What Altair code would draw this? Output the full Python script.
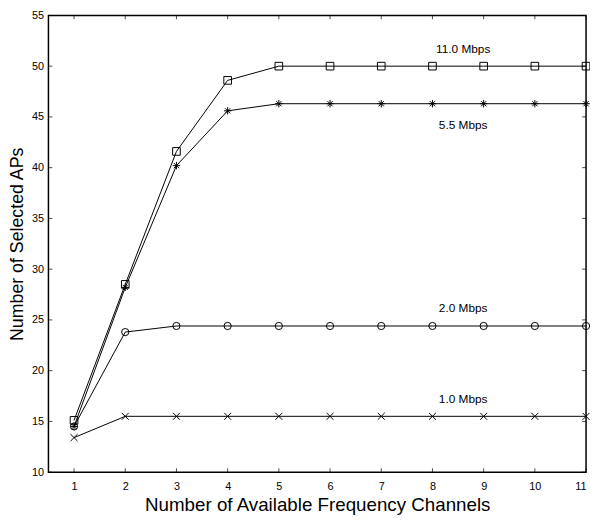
import altair as alt
import pandas as pd

channels = [1, 2, 3, 4, 5, 6, 7, 8, 9, 10, 11]
rate_11 = [15.1, 28.5, 41.6, 48.6, 50.0, 50.0, 50.0, 50.0, 50.0, 50.0, 50.0]
rate_55 = [14.5, 28.2, 40.2, 45.6, 46.3, 46.3, 46.3, 46.3, 46.3, 46.3, 46.3]
rate_20 = [14.5, 23.8, 24.4, 24.4, 24.4, 24.4, 24.4, 24.4, 24.4, 24.4, 24.4]
rate_10 = [13.4, 15.5, 15.5, 15.5, 15.5, 15.5, 15.5, 15.5, 15.5, 15.5, 15.5]
series_names = ["11.0 Mbps", "5.5 Mbps", "2.0 Mbps", "1.0 Mbps"]

label_text = ["11.0 Mbps", "5.5 Mbps", "2.0 Mbps", "1.0 Mbps"]
label_x = [8.6, 8.6, 8.6, 8.6]
label_y = [51.7, 44.2, 26.2, 17.2]

x_ticks = [1, 2, 3, 4, 5, 6, 7, 8, 9, 10, 11]
y_ticks = [10, 15, 20, 25, 30, 35, 40, 45, 50, 55]

rows = []
for name, vals in zip(series_names, [rate_11, rate_55, rate_20, rate_10]):
    for c, v in zip(channels, vals):
        rows.append({"channels": c, "aps": v, "series": name})
df = pd.DataFrame(rows)
labels_df = pd.DataFrame({"text": label_text, "x": label_x, "y": label_y})
xt = pd.DataFrame({"t": x_ticks})
yt = pd.DataFrame({"t": y_ticks})

FONT = "Liberation Sans"
xscale = alt.Scale(domain=[0.5, 11], nice=False, zero=False)
yscale = alt.Scale(domain=[10, 55], nice=False, zero=False)

shape_scale = alt.Scale(
    domain=series_names,
    range=[
        "square",
        "M0,-1L0,1M-1,0L1,0M-0.7,-0.7L0.7,0.7M-0.7,0.7L0.7,-0.7",
        "circle",
        "M-1,-1L1,1M-1,1L1,-1",
    ],
)
size_scale = alt.Scale(domain=series_names, range=[60, 50, 85, 36])

base = alt.Chart(df)
lines = base.mark_line(color="black", strokeWidth=1).encode(
    x=alt.X("channels:Q", scale=xscale,
            axis=alt.Axis(values=x_ticks, title="Number of Available Frequency Channels",
                          ticks=False, domain=False, grid=False, labelPadding=9,
                          titlePadding=4, titleFontSize=19, format="d")),
    y=alt.Y("aps:Q", scale=yscale,
            axis=alt.Axis(values=y_ticks, title="Number of Selected APs",
                          ticks=False, domain=False, grid=False, labelPadding=5,
                          titlePadding=5)),
    detail="series:N",
)
points = base.mark_point(filled=False, color="black", strokeWidth=1, opacity=1).encode(
    x=alt.X("channels:Q", scale=xscale),
    y=alt.Y("aps:Q", scale=yscale),
    shape=alt.Shape("series:N", scale=shape_scale, legend=None),
    size=alt.Size("series:N", scale=size_scale, legend=None),
)
texts = alt.Chart(labels_df).mark_text(font=FONT, fontSize=12, color="black").encode(
    x=alt.X("x:Q", scale=xscale),
    y=alt.Y("y:Q", scale=yscale),
    text="text:N",
)

TL = 4
bottom_ticks = alt.Chart(xt).mark_tick(orient="vertical", size=TL, thickness=1, color="black").encode(
    x=alt.X("t:Q", scale=xscale), y=alt.datum(10), yOffset=alt.value(-TL / 2))
top_ticks = alt.Chart(xt).mark_tick(orient="vertical", size=TL, thickness=1, color="black").encode(
    x=alt.X("t:Q", scale=xscale), y=alt.datum(55), yOffset=alt.value(TL / 2))
left_ticks = alt.Chart(yt).mark_tick(orient="horizontal", size=TL, thickness=1, color="black").encode(
    y=alt.Y("t:Q", scale=yscale), x=alt.datum(0.5), xOffset=alt.value(TL / 2))
right_ticks = alt.Chart(yt).mark_tick(orient="horizontal", size=TL, thickness=1, color="black").encode(
    y=alt.Y("t:Q", scale=yscale), x=alt.datum(11), xOffset=alt.value(-TL / 2))

chart = alt.layer(lines, points, texts, bottom_ticks, top_ticks, left_ticks, right_ticks).properties(
    width=545, height=463, autosize="none", background="white",
    padding={"left": 41, "top": 4, "right": 4, "bottom": 45},
).configure_view(stroke="black", strokeWidth=1.5).configure_axis(
    labelFont=FONT, labelFontSize=11, labelColor="black",
    titleFont=FONT, titleFontSize=18, titleColor="black", titleFontWeight="normal",
)

chart.save("out.html", embed_options={"renderer": "svg", "actions": False})
